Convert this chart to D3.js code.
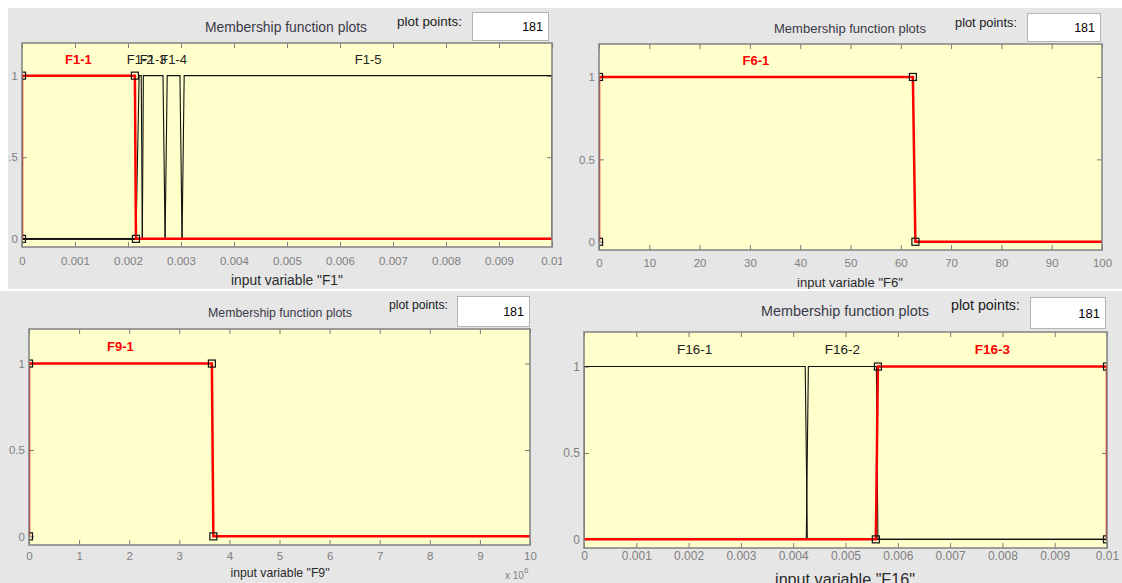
<!DOCTYPE html>
<html>
<head>
<meta charset="utf-8">
<script src="https://cdn.jsdelivr.net/npm/d3@7"></script>
<style>
  body { margin: 0; background: #ffffff; }
  svg { display: block; }
  text { font-family: "Liberation Sans", Arial, sans-serif; }
</style>
</head>
<body>
<div id="chart"></div>
<script>
// ---- data ----
// membership functions: trapezoid [a, b, c, d]
var f1Names = ["F1-1", "F1-2", "F1-3", "F1-4", "F1-5"];
var f1Params = [[0, 0, 0.00213, 0.00215],
                [0.00215, 0.00221, 0.00225, 0.00227],
                [0.00227, 0.00229, 0.00266, 0.0027],
                [0.0027, 0.00274, 0.00298, 0.00302],
                [0.00302, 0.00306, 0.01, 0.01]];
var f1Ticks = [0, 0.001, 0.002, 0.003, 0.004, 0.005, 0.006, 0.007, 0.008, 0.009, 0.01];
var f1TickLabels = ["0", "0.001", "0.002", "0.003", "0.004", "0.005", "0.006", "0.007", "0.008", "0.009", "0.01"];

var f6Names = ["F6-1"];
var f6Params = [[0, 0, 62.4, 62.9]];
var f6Ticks = [0, 10, 20, 30, 40, 50, 60, 70, 80, 90, 100];
var f6TickLabels = ["0", "10", "20", "30", "40", "50", "60", "70", "80", "90", "100"];

var f9Names = ["F9-1"];
var f9Params = [[0, 0, 3.65e6, 3.68e6]];
var f9Ticks = [0, 1e6, 2e6, 3e6, 4e6, 5e6, 6e6, 7e6, 8e6, 9e6, 1e7];
var f9TickLabels = ["0", "1", "2", "3", "4", "5", "6", "7", "8", "9", "10"];

var f16Names = ["F16-1", "F16-2", "F16-3"];
var f16Params = [[0, 0, 0.00423, 0.00427],
                 [0.00425, 0.00429, 0.00559, 0.00562],
                 [0.00558, 0.00562, 0.01, 0.01]];
var f16Ticks = f1Ticks;
var f16TickLabels = f1TickLabels;

var yTicks = [0, 0.5, 1];
var yTickLabels = ["0", "0.5", "1"];
var plotPoints = "181";

// ---- panels (layout only) ----
var panels = [
  { name: "F1", names: f1Names, params: f1Params, sel: 0, dom: [0, 0.01], ticks: f1Ticks, tickLabels: f1TickLabels,
    rect: [8, 8, 554, 281], plot: [22, 43, 552, 247],
    title: [286, 27, 162], pp: [397, 21, 65], box: [472, 12, 548, 40], tickY: 261, xl: [287, 280, 112], fs: 11.5 },
  { name: "F6", names: f6Names, params: f6Params, sel: 0, dom: [0, 100], ticks: f6Ticks, tickLabels: f6TickLabels,
    rect: [562, 8, 560, 281], plot: [599, 44, 1102, 250],
    title: [850, 28, 152], pp: [955, 22, 62], box: [1027, 13, 1100, 41], tickY: 263, xl: [850, 282, 106], fs: 11.5 },
  { name: "F9", names: f9Names, params: f9Params, sel: 0, dom: [0, 1e7], ticks: f9Ticks, tickLabels: f9TickLabels,
    rect: [0, 291, 560, 292], plot: [29, 329, 530, 545],
    title: [280, 313, 144], pp: [389, 305, 59], box: [457, 296, 529, 326], tickY: 556, xl: [280, 573, 99], fs: 11.5, exp: true },
  { name: "F16", names: f16Names, params: f16Params, sel: 2, dom: [0, 0.01], ticks: f16Ticks, tickLabels: f16TickLabels,
    rect: [560, 291, 562, 292], plot: [584, 332, 1107, 548],
    title: [845, 311, 168], pp: [951, 305, 69], box: [1030, 297, 1105, 328], tickY: 556, xl: [845, 579, 140], fs: 12 }
];

var W = 1122, H = 583;
var svg = d3.select("#chart").append("svg")
  .attr("width", W).attr("height", H);

svg.append("rect").attr("width", W).attr("height", H).attr("fill", "#ffffff");

// squeeze or stretch font size so a text hits the width seen in the picture
function fitText(sel, target) {
  var node = sel.node();
  var fs = parseFloat(sel.attr("font-size"));
  var w = node.getComputedTextLength();
  if (w > 0) sel.attr("font-size", (fs * target / w).toFixed(2));
}

panels.forEach(function(p, k) {
  var clipId = "clip" + k, plotClip = "pclip" + k;
  svg.append("clipPath").attr("id", clipId)
    .append("rect").attr("x", p.rect[0]).attr("y", p.rect[1]).attr("width", p.rect[2]).attr("height", p.rect[3]);
  svg.append("clipPath").attr("id", plotClip)
    .append("rect").attr("x", p.plot[0]).attr("y", p.plot[1])
    .attr("width", p.plot[2] - p.plot[0]).attr("height", p.plot[3] - p.plot[1]);

  var g = svg.append("g").attr("clip-path", "url(#" + clipId + ")");
  g.append("rect").attr("x", p.rect[0]).attr("y", p.rect[1]).attr("width", p.rect[2]).attr("height", p.rect[3])
    .attr("fill", "#e6e6e6");

  var x = d3.scaleLinear().domain(p.dom).range([p.plot[0], p.plot[2]]);
  var y = d3.scaleLinear().domain([-0.05, 1.2]).range([p.plot[3], p.plot[1]]);

  // header
  var t = g.append("text").attr("x", p.title[0]).attr("y", p.title[1])
    .attr("text-anchor", "middle").attr("dominant-baseline", "central")
    .attr("font-size", 12).attr("fill", "#3a3a48").text("Membership function plots");
  fitText(t, p.title[2]);
  var pp = g.append("text").attr("x", p.pp[0]).attr("y", p.pp[1])
    .attr("dominant-baseline", "central").attr("font-size", 12).attr("fill", "#1a1a1a").text("plot points:");
  fitText(pp, p.pp[2]);
  g.append("rect").attr("x", p.box[0] + 0.5).attr("y", p.box[1] + 0.5)
    .attr("width", p.box[2] - p.box[0]).attr("height", p.box[3] - p.box[1])
    .attr("fill", "#ffffff").attr("stroke", "#b4b4b4");
  g.append("text").attr("x", p.box[2] - 5).attr("y", (p.box[1] + p.box[3]) / 2 + 1)
    .attr("text-anchor", "end").attr("dominant-baseline", "central")
    .attr("font-size", p.fs + 1).attr("fill", "#000").text(plotPoints);

  // plot area
  g.append("rect").attr("x", p.plot[0]).attr("y", p.plot[1])
    .attr("width", p.plot[2] - p.plot[0]).attr("height", p.plot[3] - p.plot[1])
    .attr("fill", "#ffffcc");

  // axes with inner ticks on all four sides
  var tl = 5;
  var axB = d3.axisBottom(x).tickValues(p.ticks).tickSize(tl).tickFormat(function(d, i) { return p.tickLabels[i]; });
  var gb = g.append("g").attr("transform", "translate(0," + p.plot[3] + ")").call(axB);
  gb.selectAll(".tick line").attr("y2", -tl);
  gb.selectAll(".tick text").attr("y", p.tickY - p.plot[3]).attr("dy", "0.35em");
  var gt = g.append("g").attr("transform", "translate(0," + p.plot[1] + ")")
    .call(d3.axisTop(x).tickValues(p.ticks).tickSize(tl).tickFormat(""));
  gt.selectAll(".tick line").attr("y2", tl);
  var gl = g.append("g").attr("transform", "translate(" + p.plot[0] + ",0)")
    .call(d3.axisLeft(y).tickValues(yTicks).tickSize(tl).tickFormat(function(d, i) { return yTickLabels[i]; }));
  gl.selectAll(".tick line").attr("x2", tl);
  gl.selectAll(".tick text").attr("x", -4);
  var gr = g.append("g").attr("transform", "translate(" + p.plot[2] + ",0)")
    .call(d3.axisRight(y).tickValues(yTicks).tickSize(tl).tickFormat(""));
  gr.selectAll(".tick line").attr("x2", -tl);
  [gb, gt, gl, gr].forEach(function(a) {
    a.select(".domain").remove();
    a.selectAll(".tick line").attr("stroke", "#7c7c7c");
    a.selectAll(".tick text").attr("fill", "#7f7f7f").attr("font-size", p.fs)
      .attr("font-family", "'Liberation Sans', Arial, sans-serif");
  });

  // membership functions, clipped to the plot box
  var pg = g.append("g").attr("clip-path", "url(#" + plotClip + ")");
  var line = d3.line().x(function(d) { return x(d[0]); }).y(function(d) { return y(d[1]); });
  function pts(q) {
    return [[p.dom[0], 0], [q[0], 0], [q[1], 1], [q[2], 1], [q[3], 0], [p.dom[1], 0]];
  }
  var order = d3.range(p.params.length).filter(function(i) { return i !== p.sel; }).concat([p.sel]);
  order.forEach(function(i) {
    var red = i === p.sel;
    pg.append("path").datum(pts(p.params[i])).attr("d", line)
      .attr("fill", "none")
      .attr("stroke", red ? "#ff0000" : "#111111")
      .attr("stroke-width", red ? 2.5 : 1.1)
      .attr("stroke-linejoin", "miter");
  });
  // vertex handles of the selected one
  var q = p.params[p.sel];
  var handles = [[q[0], 0], [q[1], 1], [q[2], 1], [q[3], 0]];
  pg.selectAll(".handle").data(handles).enter().append("rect")
    .attr("class", "handle")
    .attr("x", function(d) { return x(d[0]) - 3.5; })
    .attr("y", function(d) { return y(d[1]) - 3.5; })
    .attr("width", 7).attr("height", 7)
    .attr("fill", "none").attr("stroke", "#111").attr("stroke-width", 1.2);

  // plot border
  g.append("rect").attr("x", p.plot[0]).attr("y", p.plot[1])
    .attr("width", p.plot[2] - p.plot[0]).attr("height", p.plot[3] - p.plot[1])
    .attr("fill", "none").attr("stroke", "#808080").attr("stroke-width", 1.5);

  // names above each plateau
  p.names.forEach(function(nm, i) {
    var red = i === p.sel;
    g.append("text")
      .attr("x", x((p.params[i][1] + p.params[i][2]) / 2))
      .attr("y", y(1.1))
      .attr("text-anchor", "middle").attr("dominant-baseline", "central")
      .attr("font-size", p.fs + 1.5)
      .attr("font-weight", red ? "bold" : "normal")
      .attr("fill", red ? "#ff0000" : "#222222")
      .text(nm);
  });

  // x label
  var xl = g.append("text").attr("x", p.xl[0]).attr("y", p.xl[1])
    .attr("text-anchor", "middle").attr("dominant-baseline", "central")
    .attr("font-size", 12).attr("fill", "#2a2a2a").text('input variable "' + p.name + '"');
  fitText(xl, p.xl[2]);

  if (p.exp) {
    var ex = g.append("text").attr("x", p.plot[2] - 25).attr("y", p.xl[1] + 6)
      .attr("font-size", 10).attr("fill", "#7f7f7f");
    ex.append("tspan").text("x 10");
    ex.append("tspan").attr("dy", -6).attr("font-size", 8).text("6");
  }
});
</script>
</body>
</html>
